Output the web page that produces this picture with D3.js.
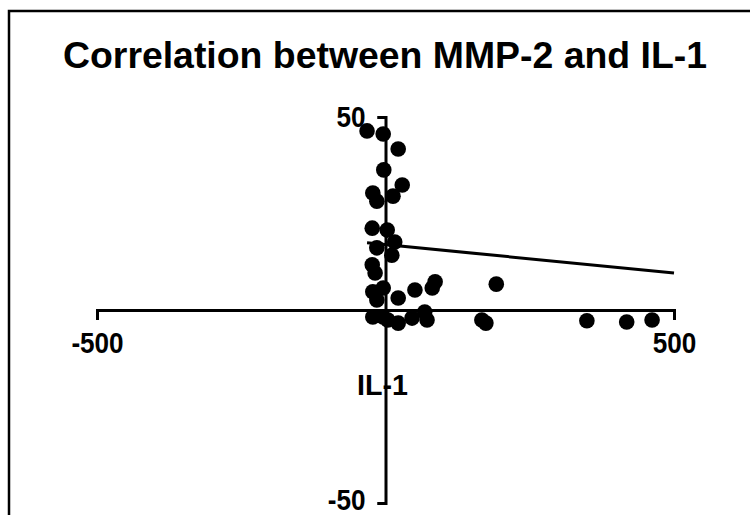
<!DOCTYPE html>
<html>
<head>
<meta charset="utf-8">
<script src="https://cdn.jsdelivr.net/npm/d3@7"></script>
<style>
    body { margin: 0; background: #fff; }
    svg { display: block; font-family: "Liberation Sans", Arial, sans-serif; }
    .axis path, .axis line { stroke: #000; stroke-width: 3; }
    .axis text { font-size: 29px; font-weight: bold; fill: #000; }
</style>
</head>
<body>
<script>
// IL-1 (x) vs MMP-2 (y)
const il1 = [-32, -4, 22, -3, 29, -22, -15, 13, -23, 3, 16, -15, 11, -23, -18,
    86, 81, -22, -4, 51, 22, -15, 192, -22, -4, 22, 46, 68, 72, 4, 167, 174, 349, 418, 462];
const mmp2 = [46.4, 45.6, 41.7, 36.3, 32.4, 30.3, 28.2, 29.5, 21.2, 20.7, 17.6, 16.1, 14.2, 11.7, 9.6,
    7.3, 5.7, 4.7, 5.7, 5.2, 3.1, 2.6, 6.7, -1.8, -1.8, -3.4, -2.1, -0.5, -2.6, -2.6, -2.6, -3.4, -2.8, -3.1, -2.6];

// regression line end points
const fitX = [-32, 500];
const fitY = [17.4, 9.6];

const xTicks = [-500, 500];
const yTicks = [-50, 50];

const width = 750, height = 515;

const svg = d3.select('body').append('svg')
    .attr('width', width)
    .attr('height', height);

// outer frame
svg.append('rect')
    .attr('x', 9).attr('y', 11)
    .attr('width', 760).attr('height', 530)
    .attr('fill', 'none')
    .attr('stroke', '#000')
    .attr('stroke-width', 2.5);

svg.append('text')
    .attr('x', 385).attr('y', 68)
    .attr('text-anchor', 'middle')
    .attr('font-size', 37)
    .attr('font-weight', 'bold')
    .attr('textLength', 644)
    .attr('lengthAdjust', 'spacingAndGlyphs')
    .text('Correlation between MMP-2 and IL-1');

const x = d3.scaleLinear().domain([-500, 500]).range([97, 674]);
const y = d3.scaleLinear().domain([-50, 50]).range([503, 117]);

// x axis title sits under the crossing, behind the y axis
svg.append('text')
    .attr('x', x(0) - 3).attr('y', 395)
    .attr('text-anchor', 'middle')
    .attr('font-size', 30)
    .attr('font-weight', 'bold')
    .attr('textLength', 51)
    .attr('lengthAdjust', 'spacingAndGlyphs')
    .text('IL-1');

const plain = d => String(d);

svg.append('g')
    .attr('class', 'axis')
    .attr('transform', `translate(0,${y(0)})`)
    .call(d3.axisBottom(x).tickValues(xTicks).tickSize(10).tickSizeOuter(10).tickPadding(12).tickFormat(plain));

const yAxis = svg.append('g')
    .attr('class', 'axis')
    .attr('transform', `translate(${x(0)},0)`)
    .call(d3.axisLeft(y).tickValues(yTicks).tickSize(8).tickSizeOuter(8).tickPadding(12).tickFormat(plain));

// bottom label sits right at the window edge, lift it a little
yAxis.selectAll('.tick text').filter(d => d < 0).attr('dy', '0.22em');

// the picture's digits are a bit narrow for their height
svg.selectAll('.axis text').each(function () {
    const w = this.getComputedTextLength();
    d3.select(this)
        .attr('textLength', w * 0.9)
        .attr('lengthAdjust', 'spacingAndGlyphs');
});

// fitted line
svg.append('line')
    .attr('x1', x(fitX[0])).attr('y1', y(fitY[0]))
    .attr('x2', x(fitX[1])).attr('y2', y(fitY[1]))
    .attr('stroke', '#000')
    .attr('stroke-width', 3);

svg.append('g')
    .selectAll('circle')
    .data(il1.map((v, i) => [v, mmp2[i]]))
    .enter()
    .append('circle')
    .attr('cx', d => x(d[0]))
    .attr('cy', d => y(d[1]))
    .attr('r', 7.8)
    .attr('fill', '#000');
</script>
</body>
</html>
